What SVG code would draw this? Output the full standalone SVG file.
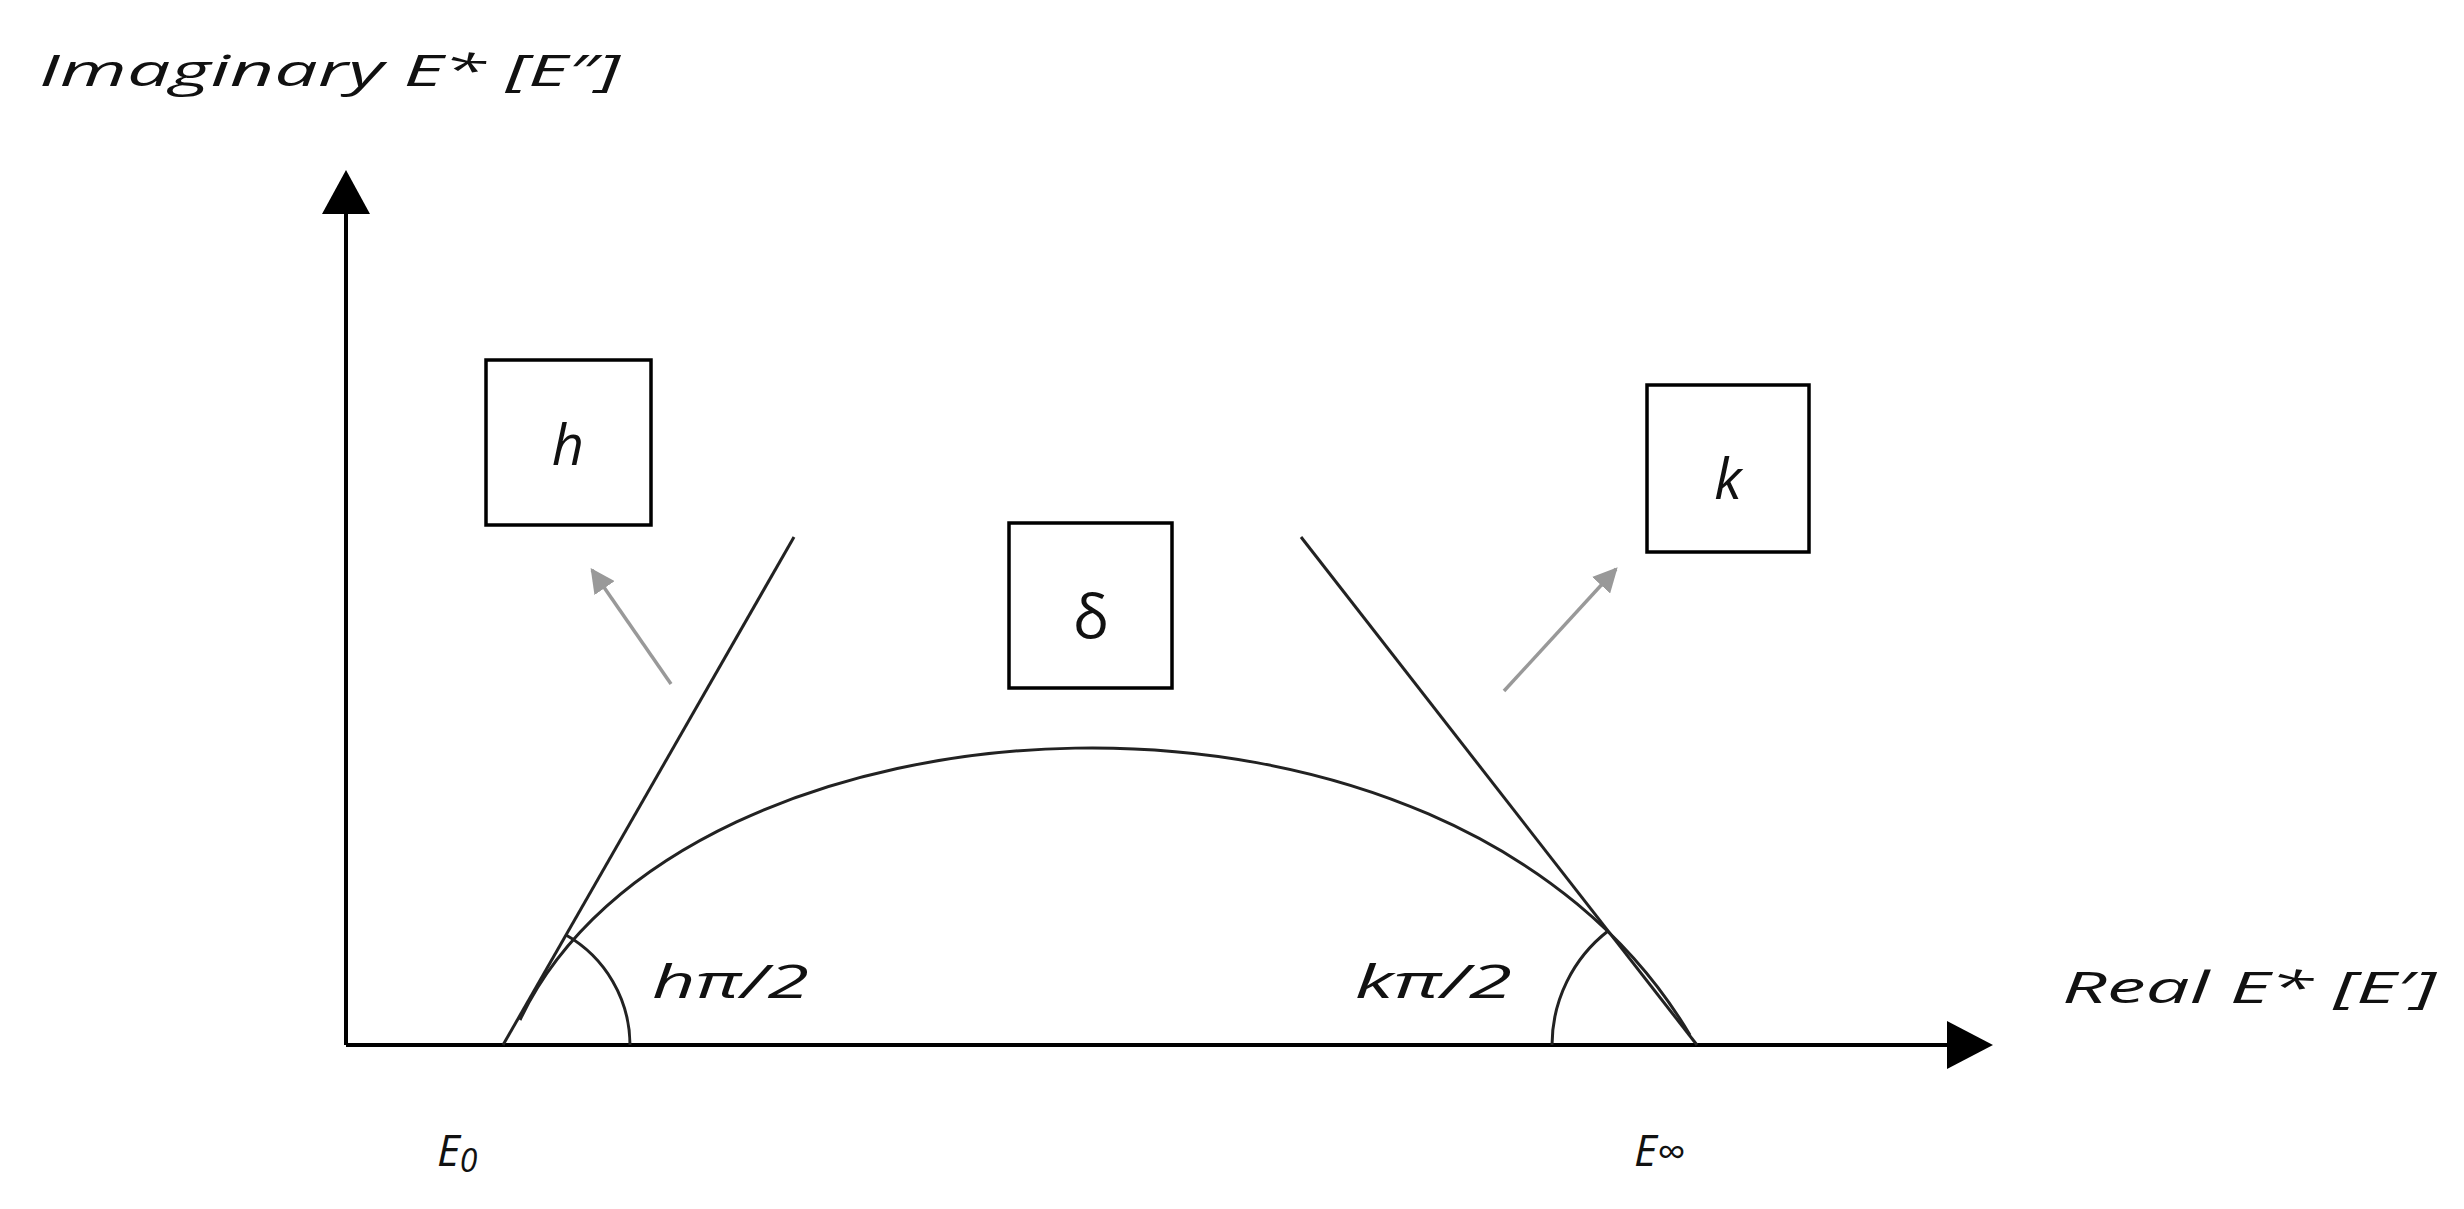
<svg xmlns="http://www.w3.org/2000/svg" width="2464" height="1209" viewBox="0 0 2464 1209">
<style>
text{font-family:"Open Sans","Liberation Sans",sans-serif;font-style:italic;fill:#111}
.ax{stroke:#000;stroke-width:4;fill:none}
.ln{stroke:#222;stroke-width:3;fill:none}
.box{fill:#fff;stroke:#000;stroke-width:3.5}
.g{stroke:#999;stroke-width:3.5;fill:none}
</style>
<defs>
<marker id="ah" markerWidth="12" markerHeight="12" refX="10" refY="6" orient="auto" markerUnits="userSpaceOnUse" viewBox="0 0 12 12"><path d="M0,0 L12,6 L0,12 z" fill="#000"/></marker>
<marker id="ga" viewBox="0 0 10 10" refX="9" refY="5" markerWidth="7" markerHeight="7" orient="auto"><path d="M0,0 L10,5 L0,10 z" fill="#999"/></marker>
</defs>
<g id="axes">
<line class="ax" x1="346" y1="1045" x2="346" y2="205"/>
<path d="M346,170 L322,214 L370,214 z" fill="#000"/>
<line class="ax" x1="346" y1="1045" x2="1955" y2="1045"/>
<path d="M1993,1045 L1947,1021 L1947,1069 z" fill="#000"/>
</g>
<g id="connectors">
<line class="ln" x1="503" y1="1045" x2="794" y2="537"/>
<line class="ln" x1="1697" y1="1045" x2="1301" y2="537"/>
<path class="ln" d="M520,1020 C680,680 1450,630 1690,1035"/>
<path class="ln" d="M630,1045 A127,127 0 0 0 566,935"/>
<path class="ln" d="M1552,1045 A145,145 0 0 1 1608,931"/>
<line class="g" x1="671" y1="684" x2="592" y2="570" marker-end="url(#ga)"/>
<line class="g" x1="1504" y1="691" x2="1616" y2="569" marker-end="url(#ga)"/>
</g>
<g id="h"><rect class="box" x="486" y="360" width="165" height="165"/><text x="568" y="465" font-size="56" text-anchor="middle">h</text></g>
<g id="k"><rect class="box" x="1647" y="385" width="162" height="167"/><text x="1728" y="499" font-size="56" text-anchor="middle">k</text></g>
<g id="delta"><rect class="box" x="1009" y="523" width="163" height="165"/><text x="1091" y="638" font-size="60" font-style="normal" text-anchor="middle" style="font-style:normal">δ</text></g>
<g id="labels">
<text x="39" y="86" font-size="44" textLength="581" lengthAdjust="spacingAndGlyphs">Imaginary E* [E″]</text>
<text x="2062" y="1003" font-size="44" textLength="374" lengthAdjust="spacingAndGlyphs">Real E* [E′]</text>
<text x="652" y="998" font-size="46" textLength="157" lengthAdjust="spacingAndGlyphs">hπ/2</text>
<text x="1355" y="998" font-size="46" textLength="157" lengthAdjust="spacingAndGlyphs">kπ/2</text>
<text x="437" y="1166" font-size="44">E<tspan font-size="32" dy="6">0</tspan></text>
<text x="1634" y="1166" font-size="44">E<tspan font-size="40">∞</tspan></text>
</g>
</svg>
